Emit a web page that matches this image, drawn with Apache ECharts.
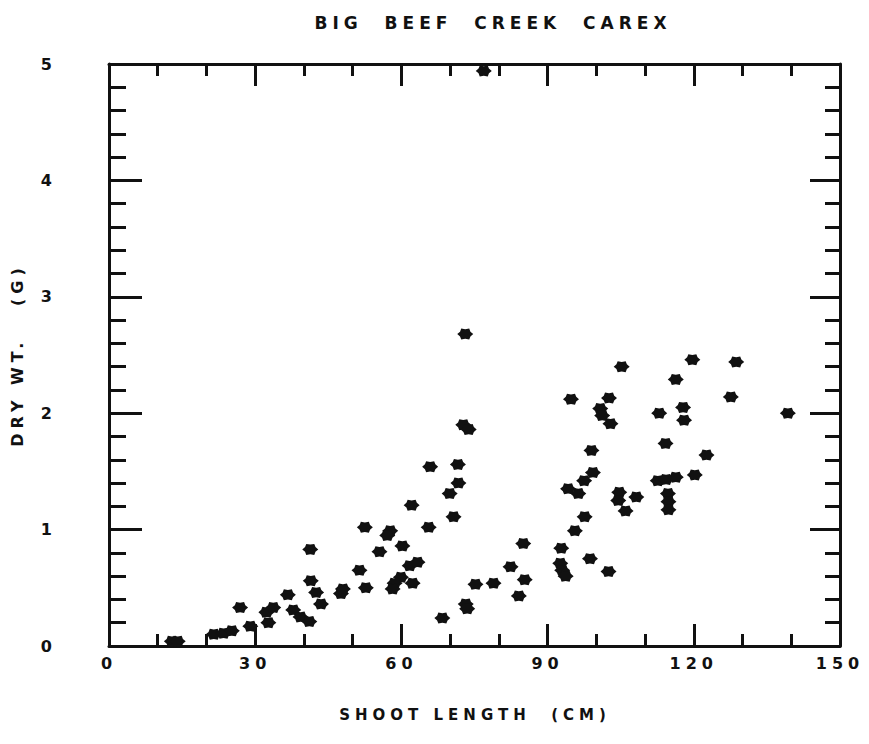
<!DOCTYPE html>
<html>
<head>
<meta charset="utf-8">
<script src="https://cdn.jsdelivr.net/npm/echarts@6/dist/echarts.min.js"></script>
<style>
  html, body { margin: 0; padding: 0; background: #fff; }
  #chart { width: 869px; height: 744px; }
  #chart text { letter-spacing: 5px; white-space: pre; }
</style>
</head>
<body>
<div id="chart"></div>
<script>
// shoot length (cm) vs dry weight (g)
const shootLength = [
  12.9, 14.1, 21.5, 23.5, 25.2, 26.9, 29.0, 32.3, 33.7, 32.7,
  36.7, 37.8, 39.3, 41.1, 41.4, 42.5, 43.5, 41.3, 47.6, 48.0,
  52.7, 51.4, 55.5, 52.5, 57.7, 57.1, 60.2, 61.7, 63.3, 59.9,
  58.6, 62.3, 58.2, 62.1, 65.9, 71.6, 71.7, 69.9, 70.7, 65.6,
  68.4, 73.2, 73.5, 75.2, 78.9, 82.4, 85.0, 85.3, 84.1, 73.1,
  72.7, 73.8, 76.9, 92.8, 92.6, 93.0, 93.7, 95.6, 94.2, 96.3,
  97.5, 99.3, 99.0, 94.8, 97.6, 98.7, 102.5, 104.7, 104.5, 108.2,
  106.0, 105.2, 102.6, 100.8, 101.2, 102.9, 112.6, 114.3, 116.3, 114.7,
  114.8, 114.8, 112.9, 114.2, 117.8, 118.0, 116.3, 119.7, 120.2, 122.6,
  127.6, 128.7, 139.3
];
const dryWeight = [
  0.04, 0.04, 0.10, 0.11, 0.13, 0.33, 0.17, 0.29, 0.33, 0.20,
  0.44, 0.31, 0.25, 0.21, 0.56, 0.46, 0.36, 0.83, 0.45, 0.49,
  0.50, 0.65, 0.81, 1.02, 0.99, 0.95, 0.86, 0.69, 0.72, 0.59,
  0.54, 0.54, 0.49, 1.21, 1.54, 1.56, 1.40, 1.31, 1.11, 1.02,
  0.24, 0.36, 0.32, 0.53, 0.54, 0.68, 0.88, 0.57, 0.43, 2.68,
  1.90, 1.86, 4.94, 0.84, 0.71, 0.65, 0.60, 0.99, 1.35, 1.31,
  1.42, 1.49, 1.68, 2.12, 1.11, 0.75, 0.64, 1.32, 1.25, 1.28,
  1.16, 2.40, 2.13, 2.04, 1.98, 1.91, 1.42, 1.43, 1.45, 1.31,
  1.24, 1.17, 2.00, 1.74, 2.05, 1.94, 2.29, 2.46, 1.47, 1.64,
  2.14, 2.44, 2.00
];

const ink = "#111";
const font = { fontFamily: "DejaVu Sans", fontWeight: "bold", fontSize: 16, color: ink };
const blob = "path://M10,0 L6.5,3.75 L5,8.66 L0,7.5 L-5,8.66 L-6.5,3.75 L-10,0 L-6.5,-3.75 L-5,-8.66 L0,-7.5 L5,-8.66 L6.5,-3.75 Z";

function xAx(pos){
  return {
    type: "value", position: pos, min: 0, max: 150, interval: 30,
    axisLine: { show: true, onZero: false, lineStyle: { color: ink, width: 3 } },
    axisTick: { show: true, inside: true, length: 22, lineStyle: { color: ink, width: 3 } },
    minorTick: { show: true, splitNumber: 3, length: 12, lineStyle: { color: ink, width: 3 } },
    splitLine: { show: false },
    axisLabel: Object.assign({ show: pos === "bottom", margin: 9 }, font)
  };
}
function yAx(pos){
  return {
    type: "value", position: pos, min: 0, max: 5, interval: 1,
    axisLine: { show: true, onZero: false, lineStyle: { color: ink, width: 3 } },
    axisTick: { show: true, inside: true, length: pos === "left" ? 33 : 30, lineStyle: { color: ink, width: 3 } },
    minorTick: { show: true, splitNumber: 5, length: pos === "left" ? 17 : 15, lineStyle: { color: ink, width: 3 } },
    splitLine: { show: false },
    axisLabel: Object.assign({ show: pos === "left", margin: 52 }, font)
  };
}

const yl = yAx("left");
yl.name = "DRY WT.   (G)";
yl.nameLocation = "middle";
yl.nameGap = 84;
yl.nameTextStyle = font;

const chart = echarts.init(document.getElementById("chart"), null, { renderer: "svg" });
chart.setOption({
  animation: false,
  title: [{
    text: "BIG  BEEF  CREEK  CAREX",
    left: 488, top: 9, textAlign: "center",
    textStyle: Object.assign({}, font, { fontSize: 17 })
  }, {
    text: "SHOOT LENGTH  (CM)",
    left: 470, top: 702, textAlign: "center",
    textStyle: Object.assign({}, font, { fontSize: 15 })
  }],
  grid: { left: 109, top: 64, width: 731, height: 582 },
  xAxis: [xAx("bottom"), xAx("top")],
  yAxis: [yl, yAx("right")],
  series: [{
    type: "scatter",
    symbol: blob,
    symbolSize: [16, 11],
    itemStyle: { color: ink, opacity: 1 },
    data: shootLength.map((x, i) => [x, dryWeight[i]])
  }]
});
</script>
</body>
</html>
